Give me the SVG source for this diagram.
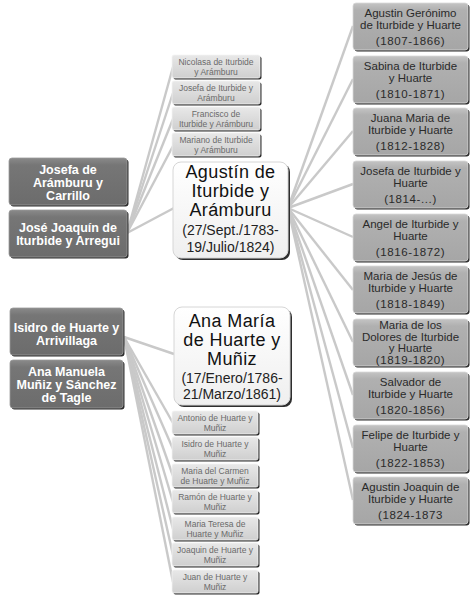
<svg xmlns="http://www.w3.org/2000/svg" width="475" height="601" viewBox="0 0 475 601">
<defs>
<linearGradient id="gDark" x1="0" y1="0" x2="0" y2="1"><stop offset="0" stop-color="#8a8a8a"/><stop offset="0.15" stop-color="#767676"/><stop offset="1" stop-color="#6c6c6c"/></linearGradient>
<linearGradient id="gMid" x1="0" y1="0" x2="0" y2="1"><stop offset="0" stop-color="#c4c4c4"/><stop offset="0.15" stop-color="#b0b0b0"/><stop offset="1" stop-color="#a6a6a6"/></linearGradient>
<linearGradient id="gLight" x1="0" y1="0" x2="0" y2="1"><stop offset="0" stop-color="#e8e8e8"/><stop offset="1" stop-color="#cfcfcf"/></linearGradient>
<linearGradient id="gWhite" x1="0" y1="0" x2="0" y2="1"><stop offset="0" stop-color="#ffffff"/><stop offset="1" stop-color="#efefef"/></linearGradient>
</defs>
<style>
text{font-family:"Liberation Sans",Arial,sans-serif;text-anchor:middle}
.sh{fill:#2e2e2e}
.dark{fill:url(#gDark);stroke:#9a9a9a;stroke-width:0.8}
.mid{fill:url(#gMid);stroke:#d8d8d8;stroke-width:0.8}
.light{fill:url(#gLight);stroke:#f4f4f4;stroke-width:0.8}
.white{fill:url(#gWhite);stroke:#d6d6d6;stroke-width:1}
.td{fill:#ffffff;font-size:12.5px;font-weight:bold}
.tm{fill:#2a2a2a;font-size:11.5px}
.ty{fill:#2a2a2a;font-size:11.5px;letter-spacing:0.6px}
.ts{fill:#6a6a6a;font-size:8.5px}
.tt{fill:#111111;font-size:18px;letter-spacing:0.4px}
.tdate{fill:#222222;font-size:14px}
#connectors line{stroke:#c9c9c9;stroke-width:2.4;fill:none}
</style>
<g id="connectors">
<line x1="127" y1="233" x2="173" y2="67"/>
<line x1="127" y1="233" x2="173" y2="93"/>
<line x1="127" y1="233" x2="173" y2="119"/>
<line x1="127" y1="233" x2="173" y2="146"/>
<line x1="127" y1="233" x2="174" y2="208"/>
<line x1="288" y1="208" x2="353" y2="26"/>
<line x1="288" y1="208" x2="353" y2="79"/>
<line x1="288" y1="208" x2="353" y2="131"/>
<line x1="288" y1="208" x2="353" y2="184"/>
<line x1="288" y1="208" x2="353" y2="237"/>
<line x1="288" y1="208" x2="353" y2="290"/>
<line x1="288" y1="208" x2="353" y2="342"/>
<line x1="288" y1="208" x2="353" y2="395"/>
<line x1="288" y1="208" x2="353" y2="448"/>
<line x1="288" y1="208" x2="353" y2="500"/>
<line x1="124" y1="337" x2="174" y2="354"/>
<line x1="124" y1="337" x2="173" y2="423"/>
<line x1="124" y1="337" x2="173" y2="449"/>
<line x1="124" y1="337" x2="173" y2="476"/>
<line x1="124" y1="337" x2="173" y2="502"/>
<line x1="124" y1="337" x2="173" y2="529"/>
<line x1="124" y1="337" x2="173" y2="555"/>
<line x1="124" y1="337" x2="173" y2="582"/>
</g>
<g id="n-josefa-aramburu"><rect class="sh" x="10.5" y="159.5" width="118" height="47" rx="3"/><rect class="dark" x="9" y="158" width="118" height="47" rx="3"/><text class="td" x="68" y="174">Josefa de</text><text class="td" x="68" y="187">Arámburu y</text><text class="td" x="68" y="200">Carrillo</text></g>
<g id="n-jose-joaquin"><rect class="sh" x="10.5" y="211.5" width="118" height="47" rx="3"/><rect class="dark" x="9" y="210" width="118" height="47" rx="3"/><text class="td" x="68" y="232">José Joaquín de</text><text class="td" x="68" y="245">Iturbide y Arregui</text></g>
<g id="n-isidro-arrivillaga"><rect class="sh" x="11.5" y="309.5" width="113" height="47" rx="3"/><rect class="dark" x="10" y="308" width="113" height="47" rx="3"/><text class="td" x="66.5" y="332">Isidro de Huarte y</text><text class="td" x="66.5" y="345">Arrivillaga</text></g>
<g id="n-ana-manuela"><rect class="sh" x="11.5" y="361.5" width="113" height="48" rx="3"/><rect class="dark" x="10" y="360" width="113" height="48" rx="3"/><text class="td" x="66.5" y="376">Ana Manuela</text><text class="td" x="66.5" y="389">Muñiz y Sánchez</text><text class="td" x="66.5" y="402">de Tagle</text></g>
<g id="n-nicolasa"><rect class="sh" x="173.5" y="56.5" width="88" height="23" rx="2"/><rect class="light" x="172" y="55" width="88" height="23" rx="2"/><text class="ts" x="216" y="65">Nicolasa de Iturbide</text><text class="ts" x="216" y="74.5">y Arámburu</text></g>
<g id="n-josefa-iturbide"><rect class="sh" x="173.5" y="82.5" width="88" height="23" rx="2"/><rect class="light" x="172" y="81" width="88" height="23" rx="2"/><text class="ts" x="216" y="91">Josefa de Iturbide y</text><text class="ts" x="216" y="100.5">Arámburu</text></g>
<g id="n-francisco"><rect class="sh" x="173.5" y="108.5" width="88" height="23" rx="2"/><rect class="light" x="172" y="107" width="88" height="23" rx="2"/><text class="ts" x="216" y="117">Francisco de</text><text class="ts" x="216" y="126.5">Iturbide y Arámburu</text></g>
<g id="n-mariano"><rect class="sh" x="173.5" y="134.5" width="88" height="23" rx="2"/><rect class="light" x="172" y="133" width="88" height="23" rx="2"/><text class="ts" x="216" y="143">Mariano de Iturbide</text><text class="ts" x="216" y="152.5">y Arámburu</text></g>
<g id="n-agustin"><rect class="sh" x="175" y="164" width="115" height="96" rx="8"/><rect class="white" x="173" y="162" width="115" height="96" rx="8"/><text class="tt" x="230.5" y="178">Agustín de</text><text class="tt" x="230.5" y="197">Iturbide y</text><text class="tt" x="230.5" y="216">Arámburu</text><text class="tdate" x="230.5" y="235">(27/Sept./1783-</text><text class="tdate" x="230.5" y="252">19/Julio/1824)</text></g>
<g id="n-ana-maria"><rect class="sh" x="176" y="309" width="116" height="98" rx="8"/><rect class="white" x="174" y="307" width="116" height="98" rx="8"/><text class="tt" x="232" y="327">Ana María</text><text class="tt" x="232" y="346">de Huarte y</text><text class="tt" x="232" y="365">Muñiz</text><text class="tdate" x="232" y="383">(17/Enero/1786-</text><text class="tdate" x="232" y="399">21/Marzo/1861)</text></g>
<g id="n-antonio"><rect class="sh" x="173.5" y="412.5" width="86" height="23" rx="2"/><rect class="light" x="172" y="411" width="86" height="23" rx="2"/><text class="ts" x="215" y="421">Antonio de Huarte y</text><text class="ts" x="215" y="430.5">Muñiz</text></g>
<g id="n-isidro-huarte"><rect class="sh" x="173.5" y="438.5" width="86" height="23" rx="2"/><rect class="light" x="172" y="437" width="86" height="23" rx="2"/><text class="ts" x="215" y="447">Isidro de Huarte y</text><text class="ts" x="215" y="456.5">Muñiz</text></g>
<g id="n-maria-carmen"><rect class="sh" x="173.5" y="465.5" width="86" height="23" rx="2"/><rect class="light" x="172" y="464" width="86" height="23" rx="2"/><text class="ts" x="215" y="474">Maria del Carmen</text><text class="ts" x="215" y="483.5">de Huarte y Muñiz</text></g>
<g id="n-ramon"><rect class="sh" x="173.5" y="491.5" width="86" height="23" rx="2"/><rect class="light" x="172" y="490" width="86" height="23" rx="2"/><text class="ts" x="215" y="500">Ramón de Huarte y</text><text class="ts" x="215" y="509.5">Muñiz</text></g>
<g id="n-maria-teresa"><rect class="sh" x="173.5" y="518.5" width="86" height="23" rx="2"/><rect class="light" x="172" y="517" width="86" height="23" rx="2"/><text class="ts" x="215" y="527">Maria Teresa de</text><text class="ts" x="215" y="536.5">Huarte y Muñiz</text></g>
<g id="n-joaquin"><rect class="sh" x="173.5" y="544.5" width="86" height="23" rx="2"/><rect class="light" x="172" y="543" width="86" height="23" rx="2"/><text class="ts" x="215" y="553">Joaquin de Huarte y</text><text class="ts" x="215" y="562.5">Muñiz</text></g>
<g id="n-juan"><rect class="sh" x="173.5" y="571.5" width="86" height="23" rx="2"/><rect class="light" x="172" y="570" width="86" height="23" rx="2"/><text class="ts" x="215" y="580">Juan de Huarte y</text><text class="ts" x="215" y="589.5">Muñiz</text></g>
<g id="n-agustin-geronimo"><rect class="sh" x="354.5" y="4.5" width="115" height="47" rx="3"/><rect class="mid" x="353" y="3" width="115" height="47" rx="3"/><text class="tm" x="410.5" y="17">Agustin Gerónimo</text><text class="tm" x="410.5" y="29">de Iturbide y Huarte</text><text class="ty" x="410.5" y="45">(1807-1866)</text></g>
<g id="n-sabina"><rect class="sh" x="354.5" y="57.5" width="115" height="47" rx="3"/><rect class="mid" x="353" y="56" width="115" height="47" rx="3"/><text class="tm" x="410.5" y="70">Sabina de Iturbide</text><text class="tm" x="410.5" y="82">y Huarte</text><text class="ty" x="410.5" y="98">(1810-1871)</text></g>
<g id="n-juana"><rect class="sh" x="354.5" y="109.5" width="115" height="47" rx="3"/><rect class="mid" x="353" y="108" width="115" height="47" rx="3"/><text class="tm" x="410.5" y="122">Juana Maria de</text><text class="tm" x="410.5" y="134">Iturbide y Huarte</text><text class="ty" x="410.5" y="150">(1812-1828)</text></g>
<g id="n-josefa-huarte"><rect class="sh" x="354.5" y="162.5" width="115" height="47" rx="3"/><rect class="mid" x="353" y="161" width="115" height="47" rx="3"/><text class="tm" x="410.5" y="175">Josefa de Iturbide y</text><text class="tm" x="410.5" y="187">Huarte</text><text class="ty" x="410.5" y="203">(1814-...)</text></g>
<g id="n-angel"><rect class="sh" x="354.5" y="215.5" width="115" height="47" rx="3"/><rect class="mid" x="353" y="214" width="115" height="47" rx="3"/><text class="tm" x="410.5" y="228">Angel de Iturbide y</text><text class="tm" x="410.5" y="240">Huarte</text><text class="ty" x="410.5" y="256">(1816-1872)</text></g>
<g id="n-maria-jesus"><rect class="sh" x="354.5" y="267.5" width="115" height="47" rx="3"/><rect class="mid" x="353" y="266" width="115" height="47" rx="3"/><text class="tm" x="410.5" y="280">Maria de Jesús de</text><text class="tm" x="410.5" y="292">Iturbide y Huarte</text><text class="ty" x="410.5" y="308">(1818-1849)</text></g>
<g id="n-dolores"><rect class="sh" x="354.5" y="320.5" width="115" height="47" rx="3"/><rect class="mid" x="353" y="319" width="115" height="47" rx="3"/><text class="tm" x="410.5" y="329">Maria de los</text><text class="tm" x="410.5" y="341">Dolores de Iturbide</text><text class="tm" x="410.5" y="352">y Huarte</text><text class="ty" x="410.5" y="364">(1819-1820)</text></g>
<g id="n-salvador"><rect class="sh" x="354.5" y="373.5" width="115" height="47" rx="3"/><rect class="mid" x="353" y="372" width="115" height="47" rx="3"/><text class="tm" x="410.5" y="386">Salvador de</text><text class="tm" x="410.5" y="398">Iturbide y Huarte</text><text class="ty" x="410.5" y="414">(1820-1856)</text></g>
<g id="n-felipe"><rect class="sh" x="354.5" y="426.5" width="115" height="47" rx="3"/><rect class="mid" x="353" y="425" width="115" height="47" rx="3"/><text class="tm" x="410.5" y="439">Felipe de Iturbide y</text><text class="tm" x="410.5" y="451">Huarte</text><text class="ty" x="410.5" y="467">(1822-1853)</text></g>
<g id="n-agustin-joaquin"><rect class="sh" x="354.5" y="478.5" width="115" height="47" rx="3"/><rect class="mid" x="353" y="477" width="115" height="47" rx="3"/><text class="tm" x="410.5" y="491">Agustin Joaquin de</text><text class="tm" x="410.5" y="503">Iturbide y Huarte</text><text class="ty" x="410.5" y="519">(1824-1873</text></g>
</svg>
